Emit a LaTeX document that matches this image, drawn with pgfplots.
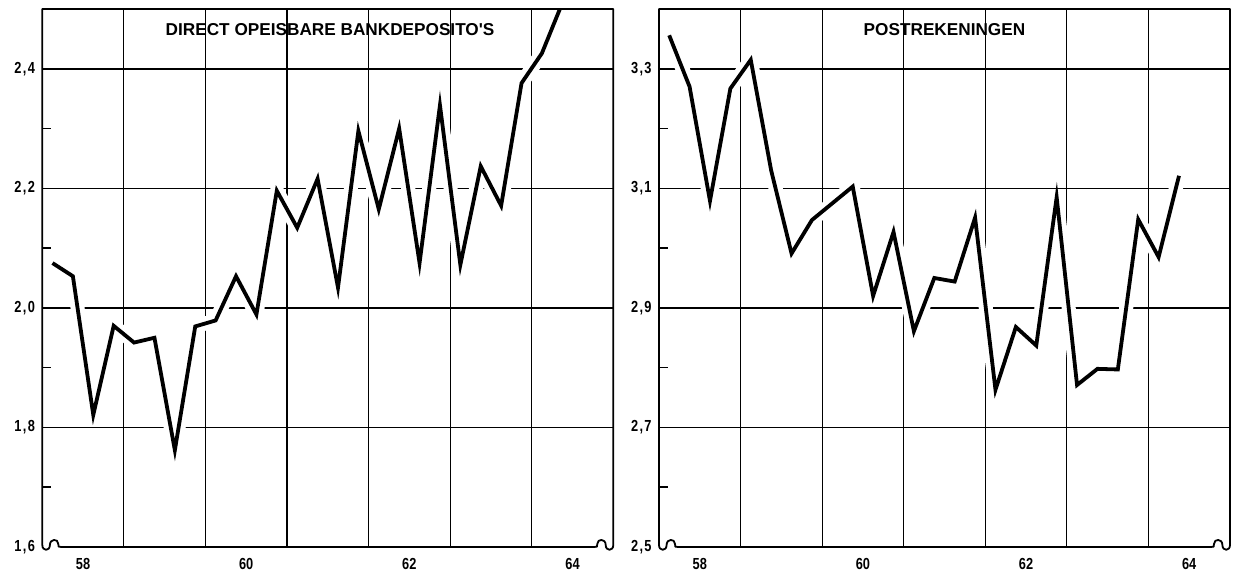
\documentclass[border=0pt]{standalone}
\usepackage{pgfplots}
\pgfplotsset{compat=1.18}
\usepackage{fontspec}
\setmainfont{Liberation Sans}
\newfontfamily\tickfont[FakeStretch=0.8]{Liberation Sans}
\newfontfamily\titlefont{Liberation Sans}
\newcommand{\dc}[2]{#1\kern0.7pt,\kern0.7pt#2}
\newcommand{\axisframe}{%
\draw[line width=0.9pt, line join=round]
 (0,269pt) -- (285.5pt,269pt) -- (285.5pt,1pt)
 .. controls (285.5pt,-2.2pt) and (281.7pt,-2.2pt) .. (281.7pt,1pt)
 .. controls (281.7pt,4.3pt) and (277.5pt,4.3pt) .. (277.5pt,1.5pt)
 .. controls (277.5pt,0pt) .. (276pt,0pt)
 -- (9.5pt,0pt)
 .. controls (8pt,0pt) .. (8pt,1.5pt)
 .. controls (8pt,4.3pt) and (3.8pt,4.3pt) .. (3.8pt,1pt)
 .. controls (3.8pt,-2.2pt) and (0pt,-2.2pt) .. (0pt,1pt) -- cycle;}
\tikzset{ttl/.style={font=\titlefont\bfseries\fontsize{8.6}{10}\selectfont}}
\begin{document}
\begin{tikzpicture}
\pgfplotsset{
 panel/.style={
  scale only axis, width=285.5pt, height=269pt, anchor=south west,
  xmin=57.5, xmax=64.5,
  axis line style={draw=none},
  xtick={58,60,62,64}, xticklabels={58,60,62,64},
  major tick length=0pt, minor tick length=4.5pt,
  ytick pos=left, xtick pos=bottom,
  ymajorgrids,
  major grid style={black, line width=0.8pt},
  extra x ticks={58.5,59.5,60.5,61.5,62.5,63.5},
  extra x tick labels={},
  extra x tick style={grid=major, major grid style={black, line width=0.6pt}},
  extra y tick style={grid=none},
  minor tick style={black, line width=0.8pt},
  ticklabel style={font=\tickfont\bfseries\fontsize{8}{9}\selectfont},
  xticklabel style={anchor=center, inner sep=0pt, yshift=-8.6pt},
  yticklabel style={anchor=east, inner sep=0pt, xshift=-3.5pt},
 },
 halo/.style={white, line width=7pt, line join=round, line cap=round},
 curve/.style={black, line width=1.9pt, line join=miter},
}
\begin{axis}[panel, at={(0,0)},
  ymin=1.6, ymax=2.5,
  ytick={1.8,2.0,2.2,2.4}, yticklabels={\dc{1}{8},\dc{2}{0},\dc{2}{2},\dc{2}{4}},
  minor ytick={1.7,1.9,2.1,2.3},
  extra y ticks={1.6}, extra y tick labels={\dc{1}{6}},
]
\addplot[halo] coordinates {
(57.625,2.075) (57.875,2.053) (58.125,1.821) (58.375,1.970) (58.625,1.942)
(58.875,1.950) (59.125,1.762) (59.375,1.969) (59.625,1.979) (59.875,2.053)
(60.125,1.989) (60.375,2.196) (60.625,2.134) (60.875,2.216) (61.125,2.034)
(61.375,2.296) (61.625,2.165) (61.875,2.300) (62.125,2.075) (62.375,2.339)
(62.625,2.072) (62.875,2.237) (63.125,2.171) (63.375,2.376) (63.625,2.426)
(63.875,2.510)};
\addplot[curve] coordinates {
(57.625,2.075) (57.875,2.053) (58.125,1.821) (58.375,1.970) (58.625,1.942)
(58.875,1.950) (59.125,1.762) (59.375,1.969) (59.625,1.979) (59.875,2.053)
(60.125,1.989) (60.375,2.196) (60.625,2.134) (60.875,2.216) (61.125,2.034)
(61.375,2.296) (61.625,2.165) (61.875,2.300) (62.125,2.075) (62.375,2.339)
(62.625,2.072) (62.875,2.237) (63.125,2.171) (63.375,2.376) (63.625,2.426)
(63.875,2.510)};
\node[ttl, yshift=-10.3pt] at (rel axis cs:0.504,1) {DIRECT OPEISBARE BANKDEPOSITO'S};
\end{axis}
\begin{axis}[panel, at={(308.35pt,0)},
  ymin=2.5, ymax=3.4,
  ytick={2.7,2.9,3.1,3.3}, yticklabels={\dc{2}{7},\dc{2}{9},\dc{3}{1},\dc{3}{3}},
  minor ytick={2.6,2.8,3.0,3.2},
  extra y ticks={2.5}, extra y tick labels={\dc{2}{5}},
]
\addplot[halo] coordinates {
(57.625,3.356) (57.875,3.270) (58.125,3.079) (58.375,3.267) (58.625,3.315)
(58.875,3.130) (59.125,2.991) (59.375,3.047) (59.625,3.075) (59.875,3.103)
(60.125,2.920) (60.375,3.027) (60.625,2.861) (60.875,2.950) (61.125,2.944)
(61.375,3.051) (61.625,2.763) (61.875,2.868) (62.125,2.837) (62.375,3.085)
(62.625,2.771) (62.875,2.798) (63.125,2.797) (63.375,3.048) (63.625,2.985)
(63.875,3.121)};
\addplot[curve] coordinates {
(57.625,3.356) (57.875,3.270) (58.125,3.079) (58.375,3.267) (58.625,3.315)
(58.875,3.130) (59.125,2.991) (59.375,3.047) (59.625,3.075) (59.875,3.103)
(60.125,2.920) (60.375,3.027) (60.625,2.861) (60.875,2.950) (61.125,2.944)
(61.375,3.051) (61.625,2.763) (61.875,2.868) (62.125,2.837) (62.375,3.085)
(62.625,2.771) (62.875,2.798) (63.125,2.797) (63.375,3.048) (63.625,2.985)
(63.875,3.121)};
\node[ttl, yshift=-10.3pt] at (rel axis cs:0.5,1) {POSTREKENINGEN};
\end{axis}
\begin{scope}[shift={(0,0)}]\axisframe\end{scope}
\begin{scope}[shift={(308.35pt,0)}]\axisframe\end{scope}
\pgfresetboundingbox
\path[use as bounding box] (-21.15pt,-20pt) rectangle (598.35pt,273.5pt);
\end{tikzpicture}
\end{document}
